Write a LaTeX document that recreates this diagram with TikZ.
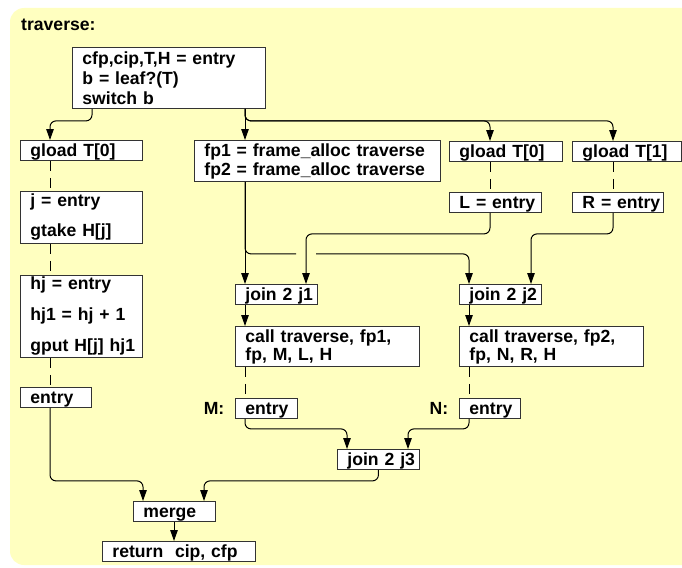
\documentclass[tikz,border=0pt]{standalone}
\usepackage{fontspec}
\setmainfont{Liberation Sans}
\usetikzlibrary{arrows.meta}
\definecolor{bgyellow}{RGB}{255,255,192}
\tikzset{
  blk/.style={draw=black!80, fill=white, line width=0.9pt, anchor=north west, align=left,
    inner xsep=10pt, inner ysep=0pt, minimum height=20pt},
  one/.style={text height=12.6pt, text depth=0pt,
    execute at begin node=\hbox\bgroup, execute at end node=\egroup},
  flow/.style={->, line width=1pt, rounded corners=6pt},
  link/.style={line width=1pt, rounded corners=6pt},
  seq/.style={line width=1pt, dash pattern=on 10pt off 7pt},
}
\begin{document}
\begin{tikzpicture}[x=1pt, y=-1pt, >={Triangle[length=11pt,width=7.5pt]},
    font=\bfseries\fontsize{17.6}{18}\selectfont]
  \useasboundingbox (0,0) rectangle (682,567);
  \fill[bgyellow, rounded corners=14pt] (10,8) rectangle (720,565);
  \node[anchor=base west, inner sep=0pt] (title) at (21,31) {traverse:};

  % blocks
  \node[blk, text width=173pt, minimum height=61pt] (top) at (72,47)
    {cfp,cip,T,H = entry\\[2pt] b = leaf?(T)\\[2pt] switch b};
  \node[blk, one, text width=102pt] (gA) at (20,140) {gload T[0]};
  \node[blk, text width=226pt, minimum height=41pt] (alloc) at (194,140)
    {fp1 = frame\_alloc traverse\\[1pt] fp2 = frame\_alloc traverse};
  \node[blk, one, text width=93pt] (gB) at (449,141) {gload T[0]};
  \node[blk, one, text width=89pt] (gC) at (572,141) {gload T[1]};
  \node[blk, one, text width=72pt] (Lent) at (449,192) {L = entry};
  \node[blk, one, text width=71pt] (Rent) at (572,192) {R = entry};
  \node[blk, text width=102pt, minimum height=52pt] (jbox) at (20,191)
    {j = entry\\[12pt] gtake H[j]};
  \node[blk, text width=102pt, minimum height=82pt] (hjbox) at (20,275)
    {hj = entry\\[13pt] hj1 = hj + 1\\[13pt] gput~H[j]~hj1};
  \node[blk, one, text width=51pt] (eA) at (20,387) {entry};
  \node[blk, one, text width=62pt] (j1) at (235,284) {join 2 j1};
  \node[blk, one, text width=62pt] (j2) at (459,284) {join 2 j2};
  \node[blk, text width=164pt, minimum height=40pt] (call1) at (235,326)
    {call traverse, fp1,\\ fp, M, L, H};
  \node[blk, text width=164pt, minimum height=40pt] (call2) at (459,326)
    {call traverse, fp2,\\ fp, N, R, H};
  \node[blk, one, text width=42pt] (eM) at (235,398) {entry};
  \node[blk, one, text width=41pt] (eN) at (459,398) {entry};
  \node[blk, one, text width=62pt] (j3) at (337,449) {join 2 j3};
  \node[blk, one, text width=62pt] (merge) at (133,501) {merge};
  \node[blk, one, text width=133pt] (ret) at (102,541) {return\ \ cip, cfp};
  \node[anchor=base east, inner sep=0pt] (lM) at ([xshift=-10.5pt]eM.base west) {M:};
  \node[anchor=base east, inner sep=0pt] (lN) at ([xshift=-10.5pt]eN.base west) {N:};
  \coordinate (jmp) at ([xshift=71pt]j1.north west);

  % switch
  \draw[flow] ([xshift=20pt]top.south west) -- ++(0,12) -| ([xshift=30pt]gA.north west);
  \draw[flow] ([xshift=173pt]top.south west) -- ([xshift=51pt]alloc.north west);
  \draw[flow] ([xshift=173pt]top.south west) -- ++(0,12) -| ([xshift=41pt]gB.north west);
  \draw[flow] ([xshift=173pt]top.south west) -- ++(0,12) -| ([xshift=41pt]gC.north west);

  % sequencing
  \draw[seq] ([xshift=30pt]gA.south west) -- ([xshift=30pt]jbox.north west);
  \draw[seq] ([xshift=30pt]jbox.south west) -- ([xshift=30pt]hjbox.north west);
  \draw[seq] ([xshift=30pt]hjbox.south west) -- ([xshift=30pt]eA.north west);
  \draw[seq] ([xshift=41pt]gB.south west) -- ([xshift=41pt]Lent.north west);
  \draw[seq] ([xshift=41pt]gC.south west) -- ([xshift=41pt]Rent.north west);
  \draw[seq] ([xshift=10pt]call1.south west) -- ([xshift=10pt]eM.north west);
  \draw[seq] ([xshift=10pt]call2.south west) -- ([xshift=10pt]eN.north west);

  % joins
  \draw[flow] ([xshift=51pt]alloc.south west) -- ([xshift=10pt]j1.north west);
  \draw[link] ([xshift=51pt]alloc.south west) -- ++(0,72) coordinate (bend)
    -- ([xshift=-10pt]bend -| jmp);
  \draw[flow] ([xshift=10pt]bend -| jmp) -| ([xshift=10pt]j2.north west);
  \draw[flow] ([xshift=41pt]Lent.south west) -- ++(0,21) -| (jmp);
  \draw[flow] ([xshift=41pt]Rent.south west) -- ++(0,21) -| ([xshift=72pt]j2.north west);
  \draw[flow] ([xshift=10pt]j1.south west) -- ([xshift=10pt]call1.north west);
  \draw[flow] ([xshift=10pt]j2.south west) -- ([xshift=10pt]call2.north west);
  \draw[flow] ([xshift=10pt]eM.south west) -- ++(0,10) -| ([xshift=10pt]j3.north west);
  \draw[flow] ([xshift=10pt]eN.south west) -- ++(0,10) -| ([xshift=71pt]j3.north west);

  % exit
  \draw[flow] ([xshift=30pt]eA.south west) -- ++(0,73) -| ([xshift=10pt]merge.north west);
  \draw[flow] (j3.south) -- ++(0,11) -| ([xshift=71pt]merge.north west);
  \draw[flow] ([xshift=41pt]merge.south west) -- ([xshift=72pt]ret.north west);
\end{tikzpicture}
\end{document}
